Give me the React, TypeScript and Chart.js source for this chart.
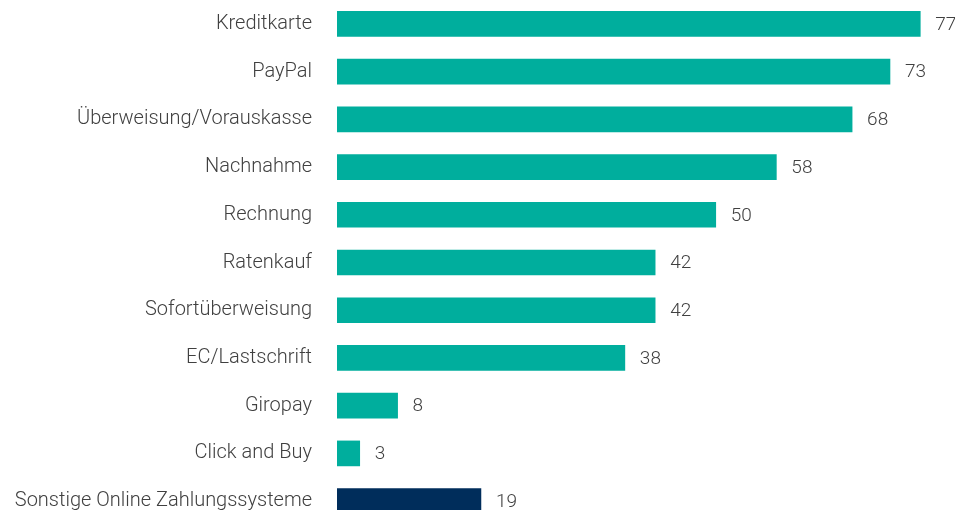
import React, { useEffect, useRef } from "react";
import { Chart, registerables } from "chart.js";

Chart.register(...registerables);

const categories = [
  "Kreditkarte",
  "PayPal",
  "Überweisung/Vorauskasse",
  "Nachnahme",
  "Rechnung",
  "Ratenkauf",
  "Sofortüberweisung",
  "EC/Lastschrift",
  "Giropay",
  "Click and Buy",
  "Sonstige Online Zahlungssysteme",
];
const values = [77, 73, 68, 58, 50, 42, 42, 38, 8, 3, 19];
const barColors = [
  "#00AE9D", "#00AE9D", "#00AE9D", "#00AE9D", "#00AE9D", "#00AE9D",
  "#00AE9D", "#00AE9D", "#00AE9D", "#00AE9D", "#002D5B",
];

const FONT = "Roboto, 'Liberation Sans', Arial, sans-serif";
const TEXT_COLOR = "#404040";

const valueLabels = {
  id: "valueLabels",
  afterDatasetsDraw(chart: any) {
    const ctx = chart.ctx;
    const meta = chart.getDatasetMeta(0);
    ctx.save();
    ctx.font = `300 19px ${FONT}`;
    ctx.fillStyle = TEXT_COLOR;
    ctx.textAlign = "left";
    ctx.textBaseline = "middle";
    meta.data.forEach((bar: any, i: number) => {
      ctx.fillText(String(values[i]), bar.x + 15, bar.y + 1);
    });
    ctx.restore();
  },
};

export default function App() {
  const canvasRef = useRef<HTMLCanvasElement | null>(null);

  useEffect(() => {
    if (!canvasRef.current) return;
    const chart = new Chart(canvasRef.current, {
      type: "bar",
      data: {
        labels: categories,
        datasets: [
          {
            data: values,
            backgroundColor: barColors,
            barThickness: 25,
            borderWidth: 0,
          },
        ],
      },
      options: {
        indexAxis: "y",
        animation: false,
        responsive: true,
        maintainAspectRatio: false,
        layout: { padding: { left: 0, right: 12, top: 0, bottom: 0 } },
        plugins: {
          legend: { display: false },
          tooltip: { enabled: false },
        },
        scales: {
          x: {
            display: false,
            min: 0,
            max: 80,
          },
          y: {
            afterFit(scale: any) {
              scale.width = 337;
              scale.paddingTop = 0;
              scale.paddingBottom = 0;
            },
            border: { display: false },
            grid: { display: false, drawTicks: false },
            ticks: {
              padding: 25,
              color: TEXT_COLOR,
              font: { family: FONT, size: 20, weight: 300 },
            },
          },
        },
      },
      plugins: [valueLabels],
    });
    return () => chart.destroy();
  }, []);

  return (
    <div
      style={{
        position: "absolute",
        left: 0,
        top: 0,
        width: 955,
        height: 510,
        overflow: "hidden",
        background: "#fff",
      }}
    >
      <div style={{ position: "relative", width: 955, height: 525 }}>
        <canvas ref={canvasRef} />
      </div>
    </div>
  );
}
